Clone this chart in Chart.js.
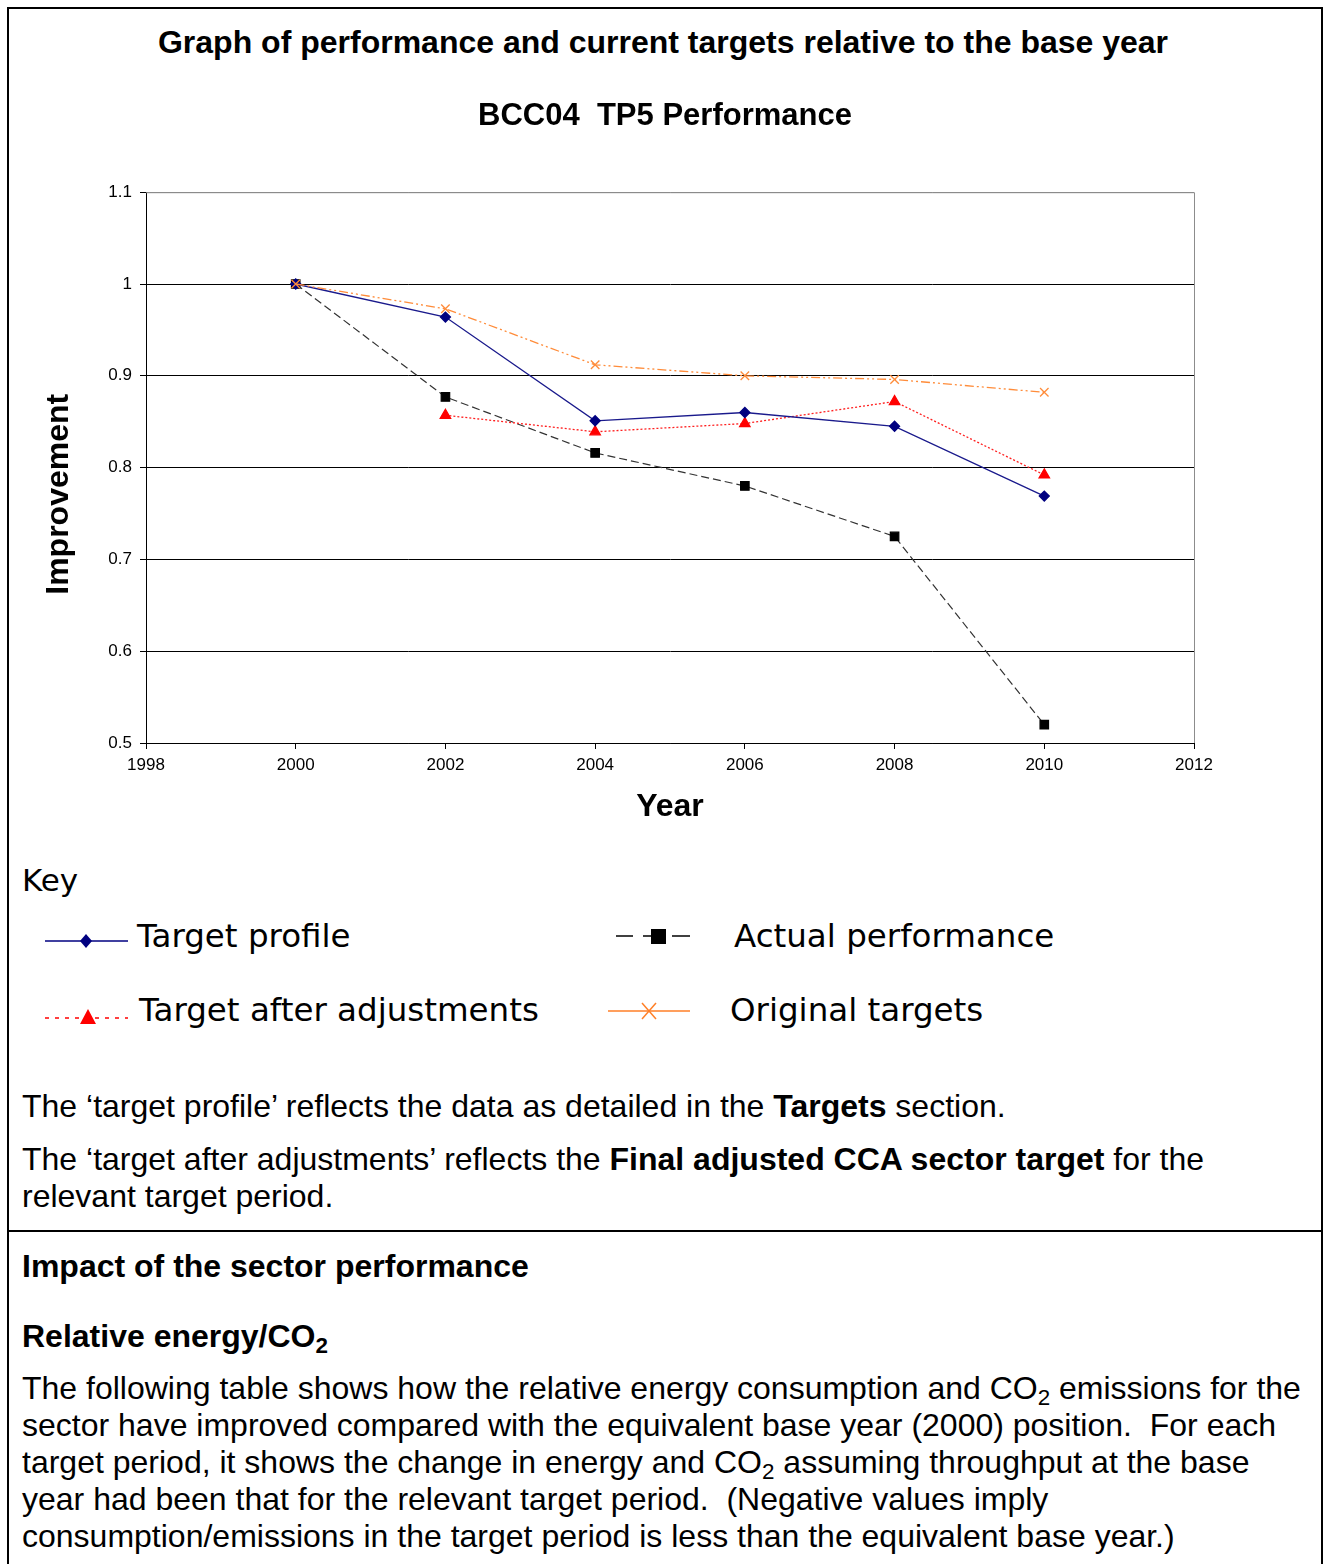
<!DOCTYPE html>
<html>
<head>
<meta charset="utf-8">
<script src="https://cdn.jsdelivr.net/npm/chart.js@4.4.0/dist/chart.umd.min.js"></script>
<style>
  html, body { margin: 0; padding: 0; background: #fff; }
  body { width: 1323px; height: 1564px; overflow: hidden; position: relative; font-family: "Liberation Sans", Arial, sans-serif; color: #000; }
  .frame { position: absolute; left: 7px; top: 7px; width: 1312px; height: 1570px; border: 2px solid #000; border-bottom: none; }
  .divider { position: absolute; left: 7px; top: 1230px; width: 1316px; height: 2px; background: #000; }
  .t { position: absolute; left: 22px; font-size: 32px; line-height: 37px; white-space: nowrap; }
  .b { font-weight: bold; }
  #docTitle { position: absolute; left: 0; width: 1326px; top: 24px; text-align: center; font-weight: bold; font-size: 32px; line-height: 37px; }
  #chartBox { position: absolute; left: 8px; top: 80px; width: 1312px; height: 760px; }
  .key { position: absolute; font-family: "DejaVu Sans", Verdana, sans-serif; font-size: 32.5px; line-height: 40px; white-space: nowrap; }
  .sym { position: absolute; }
  sub { font-size: 0.7em; vertical-align: -0.25em; line-height: 0; }
</style>
</head>
<body>
<div class="frame"></div>
<div class="divider"></div>
<div id="docTitle">Graph of performance and current targets relative to the base year</div>
<div id="chartBox"><canvas id="perfChart"></canvas></div>

<div class="key" style="left:22px; top:860px; font-size:31px;">Key</div>

<svg class="sym" style="left:40px; top:925px;" width="95" height="30">
  <line x1="5" y1="16" x2="88" y2="16" stroke="#000080" stroke-width="1.5"/>
  <polygon points="46,9 52,16 46,23 40,16" fill="#000080"/>
</svg>
<div class="key" style="left:137px; top:916px;">Target profile</div>

<svg class="sym" style="left:610px; top:922px;" width="90" height="30">
  <line x1="6" y1="14" x2="23" y2="14" stroke="#000" stroke-width="1.5"/>
  <line x1="33" y1="14" x2="41" y2="14" stroke="#000" stroke-width="1.5"/>
  <rect x="41" y="7" width="15" height="15" fill="#000"/>
  <line x1="62" y1="14" x2="80" y2="14" stroke="#000" stroke-width="1.5"/>
</svg>
<div class="key" style="left:734px; top:916px;">Actual performance</div>

<svg class="sym" style="left:40px; top:1002px;" width="95" height="30">
  <line x1="5" y1="16" x2="88" y2="16" stroke="#ff0000" stroke-width="1.5" stroke-dasharray="4,6"/>
  <polygon points="48,7 56,22 40,22" fill="#ff0000"/>
</svg>
<div class="key" style="left:139px; top:990px;">Target after adjustments</div>

<svg class="sym" style="left:605px; top:997px;" width="90" height="30">
  <line x1="3" y1="14" x2="85" y2="14" stroke="#ff7f27" stroke-width="1.3"/>
  <line x1="37" y1="6" x2="51" y2="22" stroke="#ff7f27" stroke-width="1.5"/>
  <line x1="51" y1="6" x2="37" y2="22" stroke="#ff7f27" stroke-width="1.5"/>
</svg>
<div class="key" style="left:730px; top:990px;">Original targets</div>

<div class="t" style="top:1088px;">The ‘target profile’ reflects the data as detailed in the <span class="b">Targets</span> section.</div>
<div class="t" style="top:1141px;">The ‘target after adjustments’ reflects the <span class="b">Final adjusted CCA sector target</span> for the<br>relevant target period.</div>

<div class="t b" style="top:1248px;">Impact of the sector performance</div>
<div class="t b" style="top:1318px;">Relative energy/CO<sub>2</sub></div>
<div class="t" style="top:1370px;">The following table shows how the relative energy consumption and CO<sub>2</sub> emissions for the<br>sector have improved compared with the equivalent base year (2000) position.&nbsp; For each<br>target period, it shows the change in energy and CO<sub>2</sub> assuming throughput at the base<br>year had been that for the relevant target period.&nbsp; (Negative values imply<br>consumption/emissions in the target period is less than the equivalent base year.)</div>

<script>
// data
const years = [2000, 2002, 2004, 2006, 2008, 2010];
const targetProfile = [1.0, 0.964, 0.851, 0.860, 0.845, 0.769];
const actualPerformance = [1.0, 0.877, 0.816, 0.780, 0.725, 0.520];
const targetAfterAdjustments = [null, 0.857, 0.839, 0.848, 0.872, 0.792];
const originalTargets = [1.0, 0.973, 0.912, 0.900, 0.896, 0.882];

const xTickLabels = ['1998', '2000', '2002', '2004', '2006', '2008', '2010', '2012'];
const yTickLabels = ['0.5', '0.6', '0.7', '0.8', '0.9', '1', '1.1'];

function pairs(values) {
    return years.map((yr, i) => ({ x: yr, y: values[i] }));
}

// gray frame on the top and right of the plot area
const plotFrame = {
    id: 'plotFrame',
    beforeDatasetsDraw(chart) {
        const a = chart.chartArea;
        const c = chart.ctx;
        c.save();
        c.strokeStyle = '#8c8c8c';
        c.lineWidth = 1;
        c.beginPath();
        c.moveTo(a.left, a.top + 0.5);
        c.lineTo(a.right + 0.5, a.top + 0.5);
        c.lineTo(a.right + 0.5, a.bottom);
        c.stroke();
        c.restore();
    }
};

const ctx = document.getElementById('perfChart').getContext('2d');
new Chart(ctx, {
    type: 'line',
    data: {
        datasets: [
            {
                label: 'Original targets',
                data: pairs(originalTargets),
                borderColor: '#ff8c3a',
                borderWidth: 1.3,
                borderDash: [9, 3, 2, 3, 2, 3],
                pointStyle: 'crossRot',
                pointRadius: 6,
                pointBorderWidth: 1.3,
                pointBorderColor: '#ff8c3a',
                fill: false
            },
            {
                label: 'Target profile',
                data: pairs(targetProfile),
                borderColor: '#1a1a8c',
                borderWidth: 1.3,
                pointStyle: 'rectRot',
                pointRadius: 5,
                pointBackgroundColor: '#000080',
                pointBorderColor: '#000080',
                fill: false
            },
            {
                label: 'Target after adjustments',
                data: pairs(targetAfterAdjustments),
                borderColor: '#ff2020',
                borderWidth: 1.3,
                borderDash: [2, 2],
                pointStyle: 'triangle',
                pointRadius: 6,
                pointBackgroundColor: '#ff0000',
                pointBorderColor: '#ff0000',
                spanGaps: false,
                fill: false
            },
            {
                label: 'Actual performance',
                data: pairs(actualPerformance),
                borderColor: '#333333',
                borderWidth: 1.2,
                borderDash: [8, 4],
                pointStyle: 'rect',
                pointRadius: 6,
                pointBackgroundColor: '#000',
                pointBorderColor: '#000',
                fill: false
            }
        ]
    },
    options: {
        responsive: true,
        maintainAspectRatio: false,
        animation: false,
        layout: { padding: { left: 28, right: 26, top: 0, bottom: 10 } },
        plugins: {
            legend: { display: false },
            tooltip: { enabled: false },
            title: {
                display: true,
                text: 'BCC04  TP5 Performance',
                color: '#000',
                font: { family: 'Liberation Sans', size: 31, weight: 'bold' },
                padding: { top: 18, bottom: 57 }
            }
        },
        scales: {
            x: {
                type: 'linear',
                min: 1998,
                max: 2012,
                afterFit: s => { s.height = 87; },
                ticks: {
                    stepSize: 2,
                    color: '#000',
                    padding: 6,
                    maxRotation: 0,
                    font: { family: 'Liberation Sans', size: 17 },
                    callback: (v, i) => xTickLabels[i]
                },
                grid: { drawOnChartArea: false, drawTicks: true, tickLength: 6, tickColor: '#000' },
                border: { color: '#000', width: 1 },
                title: {
                    display: true,
                    text: 'Year',
                    color: '#000',
                    font: { family: 'Liberation Sans', size: 32, weight: 'bold' },
                    padding: 4
                }
            },
            y: {
                min: 0.5,
                max: 1.1,
                afterFit: s => { s.width = 110; },
                ticks: {
                    stepSize: 0.1,
                    color: '#000',
                    padding: 8,
                    font: { family: 'Liberation Sans', size: 17 },
                    callback: (v, i) => yTickLabels[i]
                },
                grid: {
                    color: c => (c.index === yTickLabels.length - 1 ? '#8c8c8c' : '#000'),
                    lineWidth: 1,
                    tickLength: 6,
                    tickColor: '#000'
                },
                border: { color: '#000', width: 1 },
                title: {
                    display: true,
                    text: 'Improvement      ',
                    color: '#000',
                    font: { family: 'Liberation Sans', size: 32, weight: 'bold' },
                    padding: 4
                }
            },
            // empty right-hand scale, only reserves space so the title centres like the reference
            yRight: {
                position: 'right',
                min: 0.5,
                max: 1.1,
                afterFit: s => { s.width = 100; },
                ticks: { display: false },
                grid: { display: false, drawOnChartArea: false },
                border: { display: false }
            }
        }
    },
    plugins: [plotFrame]
});
</script>
</body>
</html>
